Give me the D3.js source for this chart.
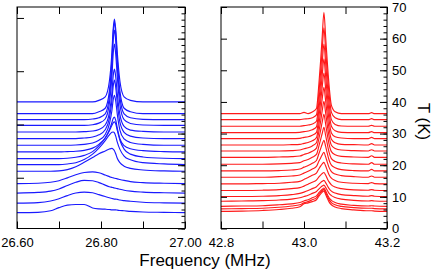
<!DOCTYPE html>
<html><head><meta charset="utf-8">
<script src="https://cdn.jsdelivr.net/npm/d3@7/dist/d3.min.js"></script>
<style>
html,body{margin:0;padding:0;background:#fff;}
svg{display:block;font-family:"Liberation Sans",Arial,Helvetica,sans-serif;}
.axis path{display:none;}
.axis line{stroke:#000;stroke-width:1;}
.axis text{fill:#000;font-size:13px;font-family:"Liberation Sans",Arial,sans-serif;}
</style></head>
<body><svg id="c" width="436" height="275"></svg>
<script>
// ---------- data ----------
const leftFreq = [26.60,26.65,26.68,26.70,26.72,26.74,26.76,26.78,26.795,26.81,26.82,26.826,26.829,26.832,26.835,26.839,26.845,26.855,26.87,26.90,26.95,27.00];
const leftBaseT = [40.0,36.3,34.4,32.6,30.5,28.4,26.3,24.2,22.1,20.2,18.1,14.2,11.2,8.0,5.0];
const leftTraces = [
 [0,0,0,0,0,0,0,0,0.5,1.6,6.6,15.7,23,26.2,23,15.2,6.6,1.6,0.5,0,0,0],
 [0,0,0,0,0,0,0,0,0.6,1.7,7.2,17.3,25.4,28.9,25.4,16.8,7.2,1.7,0.6,0,0,0],
 [0,0,0,0,0,0,0,0.2,0.6,1.8,7.3,17,24.9,28.3,24.9,16.4,7.1,1.8,0.6,0.1,0,0],
 [0,0,0,0,0,0,0,0.2,0.7,2,7,15.4,22.6,25.7,22.6,15,6.6,1.8,0.6,0.1,0,0],
 [0,0,0,0,0,0,0.1,0.3,0.8,2.2,6.2,12.5,17.7,19.9,17.5,11.8,5.5,1.8,0.6,0.2,0,0],
 [0,0,0,0,0,0,0.2,0.5,1.2,2.8,6.5,12,16.5,18.5,16.3,11,5.2,2,0.8,0.2,0,0],
 [0,0,0,0,0,0.1,0.3,0.7,1.6,3.4,6.8,11,14.3,15.8,14,9.6,4.8,2,0.9,0.3,0,0],
 [0,0,0,0,0.1,0.2,0.5,1.2,2.4,4.4,7,9.3,10.6,11,10,7.4,4.2,2,1,0.4,0.1,0],
 [0,0,0,0,0.1,0.4,1,2.2,4,6.5,8.8,10.5,11.3,11.6,11,8.8,5.8,3,1.4,0.5,0.1,0],
 [0,0,0,0,0.2,0.6,1.6,3.3,5.2,7.6,9.4,10.2,10.3,10,9,7,4.8,2.7,1.5,0.6,0.2,0],
 [0,0,0,0.1,0.5,1.4,2.8,4.3,5.5,6.4,7,7.2,7,6.5,5.5,4,2.7,1.6,0.9,0.4,0.1,0],
 [0,0.1,0.4,0.9,1.8,2.8,3.5,3.7,3.4,2.7,2.2,1.9,1.8,1.7,1.6,1.5,1.3,1,0.6,0.3,0.1,0],
 [0,0.2,0.6,1.3,2.4,3.4,4,3.9,3.3,2.5,2,1.8,1.7,1.6,1.5,1.4,1.2,0.9,0.6,0.3,0.1,0],
 [0,0.2,0.7,1.4,2.4,3.2,3.5,3.3,2.7,2.1,1.7,1.5,1.4,1.3,1.3,1.2,1,0.8,0.6,0.3,0.1,0],
 [0,0.1,0.6,1.6,2.4,2.6,2.6,1.5,1.2,1.1,1,0.9,0.9,0.9,0.9,0.8,0.7,0.6,0.4,0.2,0.1,0]
];
const rightFreq = [42.80,42.85,42.90,42.94,42.97,42.99,43.00,43.01,43.02,43.03,43.036,43.040,43.044,43.048,43.052,43.056,43.06,43.066,43.075,43.09,43.12,43.155,43.163,43.17,43.20];
const rightBaseT = [36.3,34.4,32.3,30.3,28.4,26.4,24.5,22.5,20.3,18.2,16.2,14.1,12.0,10.1,8.6,7.0,6.2,5.4];
const rightTraces = [
 [0,0,0,0,0,0,0.4,0,0.5,1.6,9.6,16.6,24.6,32,24.6,16.6,9.6,2.6,0.6,0,0,0,0.3,0,0],
 [0,0,0,0,0,0,0.2,0.3,0.6,1.5,8.7,15.1,22.3,29,22.3,15.1,8.7,2.3,0.6,0,0,0,0.3,0,0],
 [0,0,0,0,0,0,0.2,0.4,0.7,1.6,8,13.8,20.2,26,20.2,13.5,7.8,2.1,0.6,0.1,0,0,0.3,0,0],
 [0,0,0,0,0,0.1,0.3,0.5,0.9,1.8,7.5,12.6,18.3,23.3,18,12.1,7,2,0.6,0.1,0,0,0.3,0,0],
 [0,0,0,0,0,0.1,0.4,0.6,1.1,2,7,11.5,16.5,20.7,16,10.8,6.2,1.8,0.6,0.2,0,0,0.4,0,0],
 [0,0,0,0,0.1,0.2,0.5,0.8,1.3,2.3,6.6,10.4,14.7,18.2,14.1,9.5,5.5,1.8,0.7,0.2,0.1,0,0.4,0,0],
 [0,0,0,0,0.1,0.3,0.7,1,1.6,2.6,6.3,9.3,12.8,15.7,12.2,8.3,4.9,1.8,0.8,0.3,0.1,0,0.4,0,0],
 [0,0,0,0.1,0.2,0.4,0.9,1.3,1.9,2.9,6,8.5,11.2,13.6,10.6,7.3,4.4,1.8,0.8,0.3,0.1,0,0.5,0,0],
 [0,0,0,0.1,0.3,0.5,1.1,1.5,2.2,3.1,5.8,7.8,9.8,11.7,9.2,6.5,4,1.8,0.9,0.4,0.1,0,0.5,0,0],
 [0,0,0,0.1,0.3,0.6,1.2,1.7,2.4,3.3,5.5,7,8.5,9.7,7.8,5.6,3.6,1.8,1,0.4,0.1,0,0.5,0,0],
 [0,0,0,0.2,0.4,0.7,1.3,1.9,2.6,3.4,5.1,6.1,7.1,7.9,6.5,4.8,3.2,1.8,1,0.5,0.2,0,0.4,0,0],
 [0,0,0.1,0.2,0.5,0.8,1.4,2,2.7,3.4,4.8,5.6,6.3,6.8,5.7,4.3,3,1.8,1.1,0.5,0.2,0.1,0.4,0.1,0],
 [0,0,0.1,0.3,0.6,0.9,1.4,2,2.6,3.3,4.3,4.9,5.4,5.7,4.9,3.8,2.8,1.8,1.1,0.6,0.2,0.1,0.3,0.1,0],
 [0,0,0.1,0.3,0.6,1,1.4,1.9,2.5,3.1,3.9,4.4,4.8,5.1,4.4,3.5,2.6,1.7,1.1,0.6,0.3,0.1,0.3,0.1,0],
 [0,0.1,0.2,0.4,0.7,1.1,1.5,1.9,2.5,3.1,3.9,4.4,4.8,5.1,4.4,3.5,2.6,1.8,1.2,0.7,0.3,0.1,0.2,0.1,0],
 [0,0.1,0.2,0.5,0.8,1.2,1.7,2.1,2.7,3.3,4.3,4.9,5.4,5.8,4.9,3.8,2.8,1.9,1.2,0.7,0.3,0.1,0.2,0.1,0],
 [0,0.1,0.2,0.5,0.9,1.3,1.9,2.3,2.9,3.5,4.5,5.2,5.8,6.2,5.2,4,3,2,1.3,0.8,0.4,0.2,0.2,0.1,0],
 [0,0.1,0.3,0.6,1,1.5,2.4,2.7,3.1,3.7,4.8,5.5,6.1,6.5,5.4,4.2,3.1,2.1,1.4,0.9,0.5,0.2,0.2,0.1,0]
];
const leftXTicks = [26.6,26.7,26.8,26.9,27.0];
const leftXLabels = [26.6,26.8,27.0];
const rightXTicks = [42.8,42.9,43.0,43.1,43.2];
const rightXLabels = [42.8,43.0,43.2];
const tMajor = [0,10,20,30,40,50,60,70];
const tMinor = d3.range(0,71,2);
const leftIntTicks = [1,2,3,4];

// ---------- layout ----------
const svg = d3.select("#c");
const yTop = 7, yBot = 228.5;
const L = {x0:17, x1:185}, R = {x0:221, x1:387};
const xL = d3.scaleLinear().domain([26.6,27.0]).range([L.x0,L.x1]);
const xR = d3.scaleLinear().domain([42.8,43.2]).range([R.x0,R.x1]);
const yT = d3.scaleLinear().domain([0,70]).range([yBot,yTop]);
const yI = d3.scaleLinear().domain([0,4.2]).range([231,7.3]);

const defs = svg.append("defs");
[["clipL",L],["clipR",R]].forEach(([id,p])=>{
  defs.append("clipPath").attr("id",id).append("rect")
    .attr("x",p.x0).attr("y",yTop).attr("width",p.x1-p.x0).attr("height",yBot-yTop);
});

function drawTraces(freq, bases, traces, x, color, clip){
  const g = svg.append("g").attr("clip-path",`url(#${clip})`);
  const line = d3.line().x(d=>x(d[0])).y(d=>yT(d[1])).curve(d3.curveMonotoneX);
  traces.forEach((tr,i)=>{
    const pts = freq.map((f,j)=>[f, bases[i]+tr[j]]);
    g.append("path").attr("d",line(pts)).attr("fill","none")
      .attr("stroke",color).attr("stroke-width",1.15).attr("stroke-linejoin","round");
  });
}
drawTraces(leftFreq,leftBaseT,leftTraces,xL,"#1a1aff","clipL");
drawTraces(rightFreq,rightBaseT,rightTraces,xR,"#ff1a1a","clipR");

function ax(gen, tx, ty){
  svg.append("g").attr("class","axis").attr("transform",`translate(${tx},${ty})`).call(gen);
}
// Left panel axes
ax(d3.axisTop(xL).tickValues(leftXTicks).tickSize(7).tickFormat(""),0,yBot);
ax(d3.axisBottom(xL).tickValues(leftXTicks).tickSize(7).tickFormat(""),0,yTop);
ax(d3.axisBottom(xL).tickValues(leftXLabels).tickSize(0).tickPadding(9).tickFormat(d3.format(".2f")),0,yBot);
ax(d3.axisRight(yI).tickValues(leftIntTicks).tickSize(7).tickFormat(""),L.x0,0);
ax(d3.axisLeft(yT).tickValues(tMajor).tickSize(7).tickFormat(""),L.x1,0);
ax(d3.axisLeft(yT).tickValues(tMinor).tickSize(3.5).tickFormat(""),L.x1,0);
// Right panel axes
ax(d3.axisTop(xR).tickValues(rightXTicks).tickSize(7).tickFormat(""),0,yBot);
ax(d3.axisBottom(xR).tickValues(rightXTicks).tickSize(7).tickFormat(""),0,yTop);
ax(d3.axisBottom(xR).tickValues(rightXLabels).tickSize(0).tickPadding(9).tickFormat(d3.format(".1f")),0,yBot);
ax(d3.axisRight(yT).tickValues(tMajor).tickSize(6).tickFormat(""),R.x0,0);
ax(d3.axisLeft(yT).tickValues(tMajor).tickSize(7).tickFormat(""),R.x1,0);
ax(d3.axisLeft(yT).tickValues(tMinor).tickSize(3.5).tickFormat(""),R.x1,0);
ax(d3.axisRight(yT).tickValues(tMajor).tickSize(0).tickPadding(5).tickFormat(d3.format("d")),R.x1,0);

// frames
[L,R].forEach(p=>{
  svg.append("rect").attr("x",p.x0).attr("y",yTop).attr("width",p.x1-p.x0).attr("height",yBot-yTop)
    .attr("fill","none").attr("stroke","#000").attr("stroke-width",1);
});

// titles
svg.append("text").attr("x",205).attr("y",266).attr("text-anchor","middle")
  .style("font-size","17px").attr("fill","#000").text("Frequency (MHz)");
svg.append("text").attr("transform","translate(418,121.5) rotate(90)").attr("text-anchor","middle")
  .style("font-size","17px").attr("fill","#000").text("T (K)");
</script></body></html>
